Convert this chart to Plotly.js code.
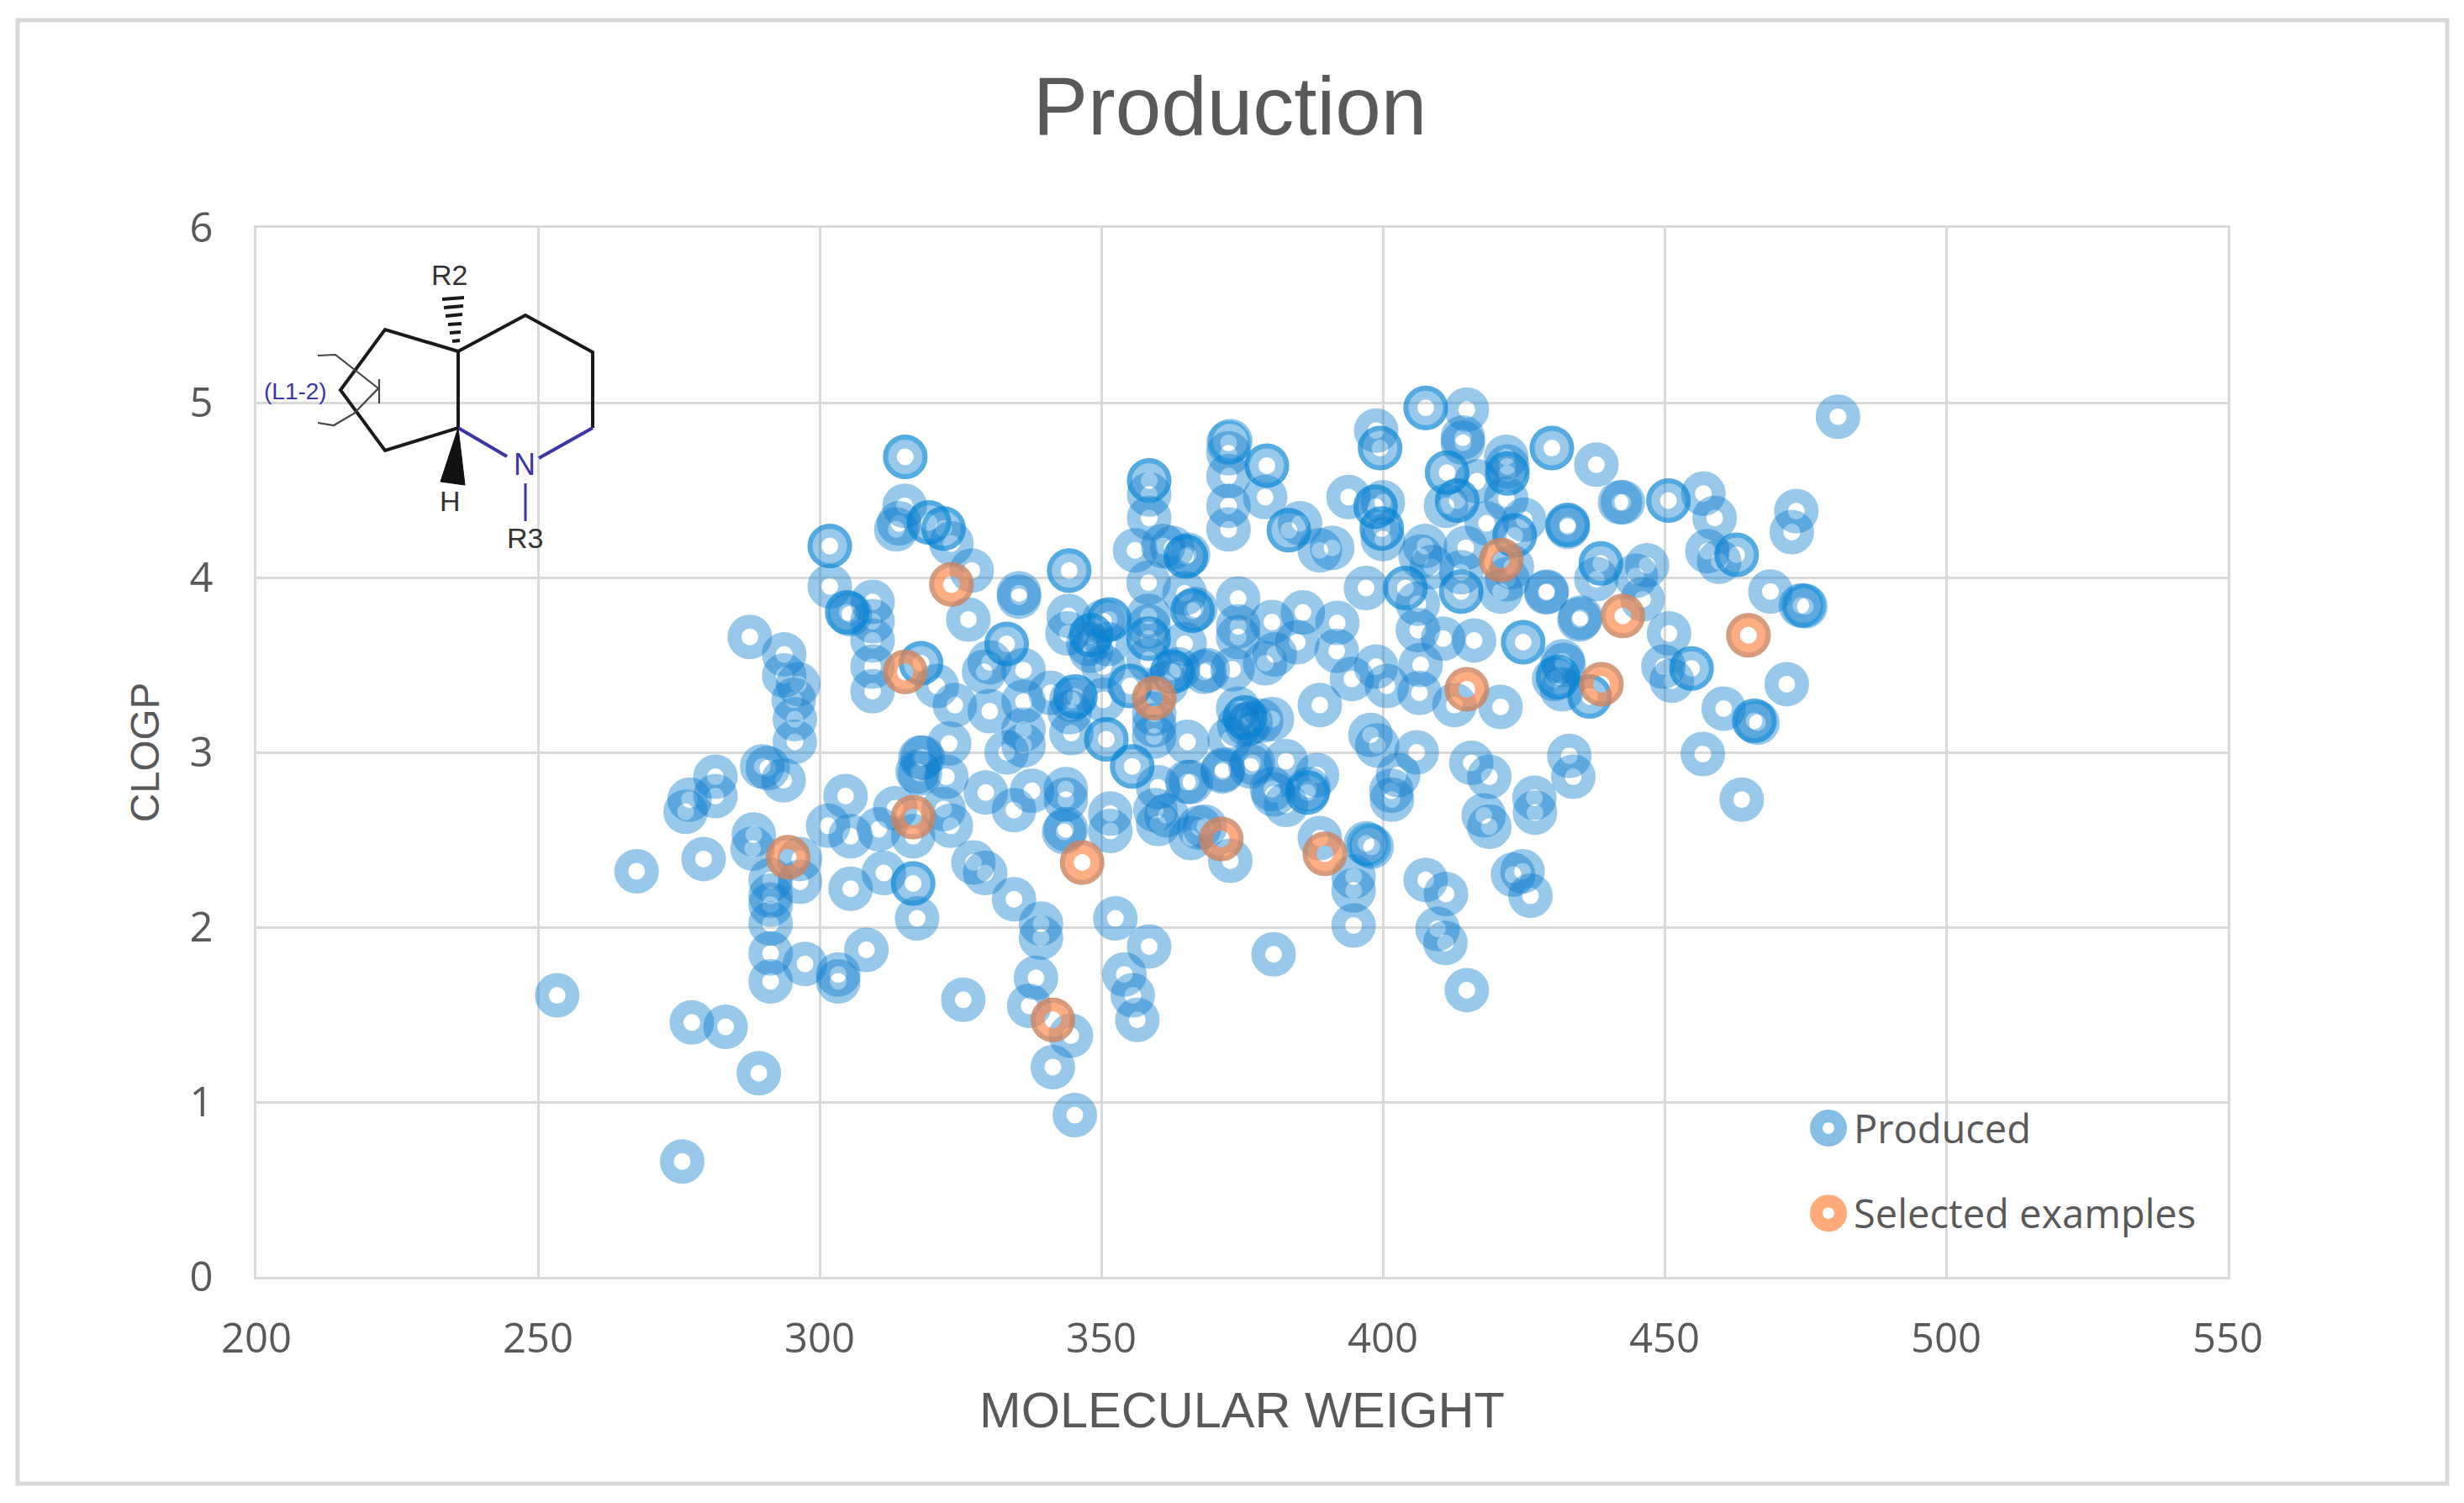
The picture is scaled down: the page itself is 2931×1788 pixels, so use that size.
<!DOCTYPE html>
<html>
<head>
<meta charset="utf-8">
<script src="https://cdn.plot.ly/plotly-3.0.1.min.js"></script>
<style>html,body{margin:0;padding:0;background:#fff}#chart{width:2931px;height:1788px}</style>
</head>
<body>
<div id="chart"></div>
<script>
const chartTitle = "Production";
const xAxisTitle = "MOLECULAR WEIGHT";
const yAxisTitle = "CLOGP";
const seriesNames = ["Produced", "Selected examples"];

const producedX = [
253.4,267.5,279.4,277.3,283.3,289.2,275.6,281.5,281.5,276.9,276.2,288.3,288.1,296.5,296.5,291.3,291.3,291.3,291.3,291.3,291.3,297.4,303.3,303.3,308.3,290.8,289.8,293.6,295.6,295.6,287.6,293.7,293.7,296.2,295.4,
304.6,301.5,305.5,310.5,313.4,316.6,305.5,311.4,316.6,317.3,317.9,317.4,
315.2,315.1,313.6,314.1,319.4,322,323.4,327,326.4,335.4,335.4,344.3,309.4,304.9,301.8,301.8,305.4,309.4,309.4,309.4,309.4,318,320.8,324,
333.2,330.2,329.2,336.2,336.2,330.2,341,336.2,336.2,333.2,323,318.3,317.8,322.5,322,323.3,329.5,334.5,337.7,343.7,343.7,343.7,351.6,351.6,
344.2,344,351.4,350.4,348.2,347.7,348.2,351.1,350.4,344.4,345.4,344.7,344.7,350.4,350.9,355.5,355.1,
358.5,358.5,358.5,356,362.6,361,365,358.4,364.8,366.2,358.4,358.4,358.4,358.4,364.8,362.6,363.6,361.6,359.4,359.4,359.4,365.3,360.1,365.3,
372.8,371.5,376.5,375.5,374.5,376.5,374.3,368.3,373.3,374.3,374.3,374.3,372.6,372.6,372.6,372.6,372.6,
379.4,379.1,383.3,385.3,391,388.8,393.9,398.7,400,399.8,400,399.5,398.8,407.6,414.9,414.2,414.2,411.4,416.7,413.2,411.2,421.9,422.1,422.1,421.9,430,437.9,
418.4,425.1,423.4,422.9,432.8,422.1,420.9,414.7,413.9,413.9,407.5,408.7,406.7,404,406.2,397,429.1,435.1,424.9,416.2,410.7,406.2,406.7,398.8,400.7,394.5,406.5,412.7,420.9,388.8,432.1,431.1,431.8,
380.3,385.8,391.9,384.8,391.8,379.1,380.8,368.9,366.7,365.4,375.9,378.4,380.3,376.9,382.8,371.6,365.9,380.3,386.8,388.3,397.8,399,406,402.7,401.5,415.7,418.9,433.1,433.8,426.9,
372.9,365.9,368.4,367.4,380.6,382.8,386.6,388.8,397,398,394.8,394.8,394.8,380.6,407.6,411.2,409.7,411.1,414.9,401.6,417.9,418.9,427,423.1,424.8,426.2,
327.3,329.4,334.5,339.3,339.3,338.4,337.2,344.6,341.4,345.3,325.5,343.4,352.5,358.5,354.1,355.6,356.4,361.6,360.1,359.6,
442.1,442.6,450.7,456.9,458.9,457.6,459.7,462.8,473.4,472.6,468.8,474.2,475,446.9,444.9,446.1,438.7,437.9,432.8,434.9,429,450.8,449.8,454.8,451.3,431.9,430.4,436.7,460.5,465.9,466.5,471.7,456.8,463.7,480.8
];
const producedY = [
1.61,2.32,2.39,1.455,1.43,1.165,0.66,2.86,2.75,2.73,2.66,2.53,2.45,2.39,2.26,2.27,2.18,2.13,2.02,1.85,1.69,1.79,1.69,1.73,1.87,2.91,2.92,2.84,3.06,3.19,3.66,3.56,3.44,3.39,3.30,
2.75,2.58,2.52,2.56,2.68,2.52,2.22,2.31,2.25,2.05,2.97,2.89,
4.69,4.41,4.275,4.31,4.315,4.28,4.195,4.04,3.76,3.89,3.91,4.04,3.86,3.80,4.18,3.95,3.79,3.75,3.64,3.49,3.35,3.51,3.38,3.27,
3.62,3.515,3.46,3.47,3.29,3.235,3.34,3.13,3.04,3.0,3.05,2.97,2.88,2.86,2.675,2.58,2.77,2.67,2.78,2.73,2.79,2.56,2.65,2.55,
3.78,3.68,3.76,3.75,3.67,3.62,3.58,3.62,3.49,3.23,3.32,3.30,3.11,3.30,3.075,2.92,3.38,
4.555,4.475,4.34,4.155,4.17,4.18,4.12,3.97,3.91,3.81,3.78,3.72,3.65,3.53,3.62,3.46,3.475,3.395,3.155,3.22,3.09,3.06,2.80,2.83,
3.075,2.89,2.92,3.20,3.155,3.17,3.25,3.46,3.475,3.88,3.72,3.66,4.77,4.71,4.58,4.41,4.275,
4.64,4.46,4.27,4.31,4.17,4.155,4.46,4.405,4.43,4.28,4.22,4.74,4.84,4.97,4.96,4.80,4.77,4.60,4.55,4.44,4.41,4.69,4.595,4.635,4.45,4.74,4.645,
4.31,4.33,4.24,4.06,4.30,3.99,3.92,4.17,3.92,4.03,4.18,4.06,4.12,3.94,3.85,3.94,3.92,3.77,3.63,3.64,3.65,3.70,3.50,3.49,3.38,3.42,3.34,3.27,3.26,3.27,3.50,3.43,3.36,
3.745,3.80,3.74,3.63,3.58,3.51,3.56,3.47,3.82,4.13,3.16,3.18,3.19,2.94,2.95,2.90,2.83,2.79,2.79,2.87,3.10,3.04,3.0,2.87,2.78,2.94,2.86,2.98,2.86,2.74,
2.38,2.51,2.575,2.57,2.76,2.70,2.77,2.51,2.48,2.46,2.29,2.21,2.01,1.845,2.27,2.19,1.99,1.91,1.64,2.73,2.64,2.575,2.655,2.30,2.32,2.18,
2.37,2.31,2.16,2.02,1.94,1.71,1.55,1.38,1.20,0.925,1.585,2.545,2.05,1.89,1.73,1.61,1.47,2.64,2.59,2.67,
4.43,4.43,4.44,4.48,4.34,4.15,4.09,4.13,4.38,4.26,3.92,3.84,3.835,4.07,4.01,3.875,4.08,3.99,4.29,3.76,3.915,3.68,3.49,3.48,3.41,3.52,3.42,3.32,3.25,3.18,3.17,3.39,2.99,2.73,4.92
];

const doubledX = [315.2,319.4,322,344.3,304.9,301.8,318,333.2,316.6,348.2,351.4,358.5,365,366.2,358.4,362.6,350.9,355.5,355.1,345.4,375.5,379.4,383.3,372.9,398.7,399.8,399.5,407.6,411.4,413.2,422.1,430,423.4,432.8,404,424.9,431.1,438.7,450.7,462.8,474.7,454.8,466,386.6,397.5,436.7,413.9];
const doubledY = [4.69,4.315,4.28,4.04,3.80,4.18,3.51,3.62,2.25,3.67,3.76,4.555,4.12,3.81,3.65,3.46,3.075,2.92,3.38,3.32,3.20,4.64,4.27,4.78,4.405,4.28,4.74,4.97,4.60,4.44,4.595,4.74,4.24,4.30,3.94,3.63,3.43,4.08,4.44,4.13,3.84,3.48,3.18,2.77,2.47,3.32,3.92];

const selectedX = [294.4,316.6,315.2,323.4,341.4,346.6,359.4,371.3,389.7,414.9,421,438.8,442.6,464.9];
const selectedY = [2.40,2.63,3.46,3.96,1.47,2.37,3.31,2.505,2.42,3.36,4.10,3.39,3.78,3.67];

// page pixels -> paper fractions for the inset drawing
const L = 305, R = 2650, T = 271, B = 1519;
const px = x => (x - L) / (R - L);
const py = y => (B - y) / (B - T);

const BLACK = "#1a1a1a", BLUE = "#3B35A5";
const seg = (a, b, c, d, color = BLACK, w = 4) => ({
  type: "line", xref: "paper", yref: "paper", x0: px(a), y0: py(b), x1: px(c), y1: py(d),
  line: {color, width: w}
});
const poly = (pts, color = BLACK, w = 4, fill) => ({
  type: "path", xref: "paper", yref: "paper",
  path: pts.map((p, i) => (i ? "L" : "M") + px(p[0]) + "," + py(p[1])).join(" ") + (fill ? " Z" : ""),
  line: {color, width: w}, fillcolor: fill || "rgba(0,0,0,0)"
});
const shapes = [
  {type: "rect", xref: "paper", yref: "paper", x0: px(21), x1: px(2911), y0: py(1765), y1: py(24), line: {color: "#D9D9D9", width: 5}},
  poly([[545,418],[458,392],[405,464],[458,536],[545,509]]),
  poly([[545,509],[545,418],[625,375],[705,419],[705,509]]),
  seg(705,509,641,545,BLUE), seg(545,509,603,543,BLUE), seg(625,575,625,620,BLUE,3),
  poly([[378,423],[399,422],[450,462],[421,492],[397,506],[378,503]],"#444",2.2),
  seg(451,451,451,480,"#444",2.2),
  poly([[545,509],[524,573],[553,577]],"#111",1,"#111"),
  seg(526,356,552,354), seg(528,366,551,364), seg(530,376,550,374), seg(533,386,549,385), seg(535,396,548,395), seg(538,406,547,405)
];

const labelFont = (size, color) => ({family: "Liberation Sans", size, color});
const note = (text, x, y, size, color) => ({
  text, x: px(x), y: py(y), xref: "paper", yref: "paper", showarrow: false,
  xanchor: "center", yanchor: "middle", font: labelFont(size, color)
});
const annotations = [
  note("R2", 534, 327, 34, "#333"),
  note("H", 535, 596, 34, "#333"),
  note("N", 624, 552, 36, BLUE),
  note("R3", 624, 640, 34, "#333"),
  note("(L1-2)", 351, 465, 28, BLUE)
];

const ring = (color, size, width) => ({symbol: "circle", color: "rgba(0,0,0,0)", size, line: {color, width}});
const BLUE_RING = "rgba(10,125,205,0.42)", BLUE_EDGE = "rgba(0,135,215,0.45)", ORANGE_RING = "rgba(255,130,65,0.66)";

const traces = [
  {type: "scatter", mode: "markers", name: seriesNames[0], legendgroup: "a", x: producedX, y: producedY, marker: ring(BLUE_RING, 36.5, 16.5), cliponaxis: false},
  {type: "scatter", mode: "markers", name: seriesNames[0] + " (repeated)", legendgroup: "a", showlegend: false, x: doubledX.concat(selectedX), y: doubledY.concat(selectedY), marker: ring(BLUE_EDGE, 47, 6), cliponaxis: false},
  {type: "scatter", mode: "markers", name: seriesNames[1], legendgroup: "b", x: selectedX, y: selectedY, marker: ring(ORANGE_RING, 36.5, 16.5), cliponaxis: false}
];

const GRID = "#D9D9D9", TXT = "#595959";
const tickFont = {family: "Open Sans", size: 49, color: TXT};
const layout = {
  width: 2931, height: 1788,
  margin: {l: L, r: 2931 - R, t: T, b: 1788 - B, pad: 0},
  paper_bgcolor: "#fff", plot_bgcolor: "#fff",
  title: {text: chartTitle, font: {family: "Liberation Sans", size: 98, color: TXT},
          xref: "paper", x: (1463 - L) / (R - L), xanchor: "center", yref: "container", y: 1 - 126 / 1788, yanchor: "middle"},
  xaxis: {range: [200, 550], dtick: 50, tick0: 200, ticks: "", showgrid: true, gridcolor: GRID, gridwidth: 2.5,
          zeroline: false, showline: true, mirror: true, linecolor: GRID, linewidth: 2.5, tickfont: tickFont, ticklabelstandoff: 28,
          title: {text: xAxisTitle, font: {family: "Liberation Sans", size: 59.5, color: TXT}, standoff: 35}, automargin: false},
  yaxis: {range: [0, 6], dtick: 1, tick0: 0, ticks: "", showgrid: true, gridcolor: GRID, gridwidth: 2.5,
          zeroline: false, showline: true, mirror: true, linecolor: GRID, linewidth: 2.5, tickfont: tickFont, ticklabelstandoff: 39,
          title: {text: yAxisTitle, font: {family: "Liberation Sans", size: 47.5, color: TXT}, standoff: 21}, automargin: false},
  legend: {x: px(2145), xanchor: "left", y: py(1305), yanchor: "top", bgcolor: "rgba(0,0,0,0)", borderwidth: 0,
           traceorder: "grouped", tracegroupgap: 37, itemwidth: 50,
           font: {family: "Open Sans", size: 47, color: TXT}},
  shapes, annotations, showlegend: true, hovermode: false
};

Plotly.newPlot("chart", traces, layout, {displayModeBar: false, responsive: false}).then(gd => {
  const colors = ["rgb(133,191,230)", "rgb(255,170,120)"];
  gd.querySelectorAll(".legend .legendpoints path.scatterpts").forEach((p, i) => {
    p.setAttribute("d", "M14.5,0A14.5,14.5 0 1,1 0,-14.5A14.5,14.5 0 0,1 14.5,0Z");
    p.style.strokeWidth = "15px";
    p.style.stroke = colors[i % 2];
    p.style.strokeOpacity = "1";
    p.style.fill = "none";
  });
});
</script>
</body>
</html>
